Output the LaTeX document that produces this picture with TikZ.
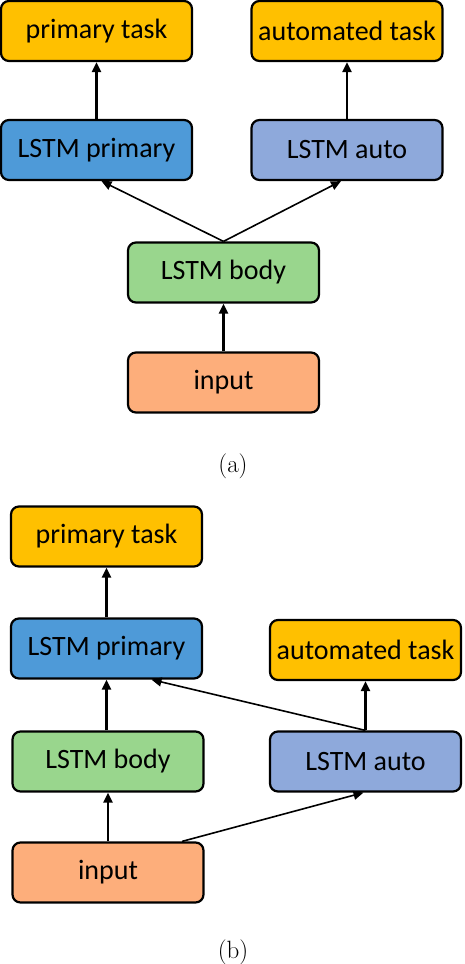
\documentclass[tikz,border=0pt]{standalone}
\usepackage{fontspec}
\newfontfamily\calibri{Carlito}
\usetikzlibrary{arrows.meta}
\definecolor{taskgold}{HTML}{FFC000}
\definecolor{primblue}{HTML}{4E9AD8}
\definecolor{autoblue}{HTML}{8EA9DB}
\definecolor{bodygreen}{HTML}{99D68D}
\definecolor{inorange}{HTML}{FDAE7B}
\begin{document}
\begin{tikzpicture}[x=1pt, y=-1pt,
    box/.style={draw, line width=2.2pt, rounded corners=8pt,
      minimum width=191pt, minimum height=60pt, inner sep=0pt,
      font=\calibri\fontsize{28}{32}\selectfont},
    arr/.style={line width=2.2pt, -{Triangle[length=10pt,width=9pt]}},
    thinarr/.style={line width=1.6pt, -{Triangle[length=10pt,width=9pt]}}]
  \useasboundingbox (0, 0) rectangle (464, 964);

  % (a)
  \node[box, fill=taskgold]  (ptaskA) at (96.5, 31)   {primary task};
  \node[box, fill=taskgold]  (ataskA) at (347, 31)    {automated task};
  \node[box, fill=primblue]  (lprimA) at (96.5, 150)  {LSTM primary};
  \node[box, fill=autoblue]  (lautoA) at (347, 150)   {LSTM auto};
  \node[box, fill=bodygreen] (bodyA)  at (223.5, 272.5) {LSTM body};
  \node[box, fill=inorange]  (inA)    at (223.5, 382.5) {input};
  \node (capA) at (233, 466) {\fontsize{25}{30}\selectfont (a)};

  \draw[arr] (lprimA) -- (ptaskA);
  \draw[arr] (lautoA) -- (ataskA);
  \draw[arr] (inA) -- (bodyA);
  \draw[thinarr] (bodyA.north) -- ([xshift=5pt]lprimA.south);
  \draw[thinarr] (bodyA.north) -- ([xshift=-6pt]lautoA.south);

  % (b)
  \node[box, fill=taskgold]  (ptaskB) at (106.5, 536.5) {primary task};
  \node[box, fill=primblue]  (lprimB) at (106.5, 648.5) {LSTM primary};
  \node[box, fill=taskgold]  (ataskB) at (365.5, 650)   {automated task};
  \node[box, fill=bodygreen] (bodyB)  at (108, 761.5)   {LSTM body};
  \node[box, fill=autoblue]  (lautoB) at (365.5, 761.5) {LSTM auto};
  \node[box, fill=inorange]  (inB)    at (108, 872.5)   {input};
  \node (capB) at (233, 952) {\fontsize{25}{30}\selectfont (b)};

  \draw[arr] (lprimB) -- (ptaskB);
  \draw[arr] (bodyB.north -| lprimB.south) -- (lprimB.south);
  \draw[arr] (inB) -- (bodyB);
  \draw[arr] (lautoB) -- (ataskB);
  \draw[thinarr] (lautoB.north) -- ([xshift=45pt]lprimB.south);
  \draw[thinarr] ([xshift=74pt]inB.north) -- ([xshift=-2pt]lautoB.south);
\end{tikzpicture}
\end{document}
